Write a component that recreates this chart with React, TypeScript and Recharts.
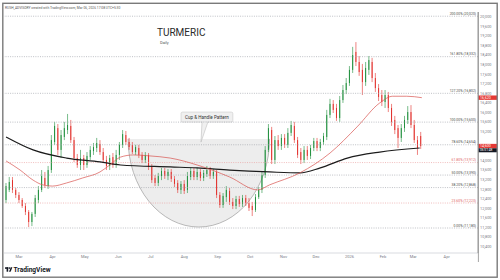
import { Bar, ComposedChart, Line, ReferenceArea, ReferenceLine, XAxis, YAxis } from "recharts";

// days counted from 1 Mar 2025 (one candle ≈ every 3rd day)
const dayIdx = [
  -12, -9, -6, -3, 0, 3, 6, 9, 12, 15, 18, 21, 24, 27, 30, 33, 36, 39, 42, 45, 48, 51, 54, 57, 60, 63, 66, 69, 72, 75,
  78, 81, 84, 87, 90, 93, 96, 99, 102, 105, 108, 111, 114, 117, 120, 123, 126, 129, 132, 135, 138, 141, 144, 147, 150,
  153, 156, 159, 162, 165, 168, 171, 174, 177, 180, 183, 186, 189, 192, 195, 198, 201, 204, 207, 210, 213, 216, 219, 222,
  225, 228, 231, 234, 237, 240, 243, 246, 249, 252, 255, 258, 261, 264, 267, 270, 273, 276, 279, 282, 285, 288, 291, 294,
  297, 300, 303, 306, 309, 312, 315, 318, 321, 324, 327, 330, 333, 336, 339, 342, 345, 348, 351, 354, 357, 360, 363, 366,
  369, 372,
];
const opens = [
  12350, 12770, 13180, 12770, 12560, 12350, 12100, 11850, 11430, 11770, 12350, 12770, 13270, 12930, 13600, 14770, 15350,
  14440, 14980, 15270, 15440, 14850, 14100, 13810, 14100, 13810, 14140, 14390, 14520, 14690, 14350, 14020, 13770, 14140,
  13810, 14230, 14650, 15060, 14770, 14650, 14350, 14520, 14230, 14020, 14230, 13730, 13270, 13060, 13350, 13560, 13350,
  13520, 13230, 13060, 12770, 13020, 12770, 13310, 13560, 13310, 13520, 13270, 13430, 13600, 13350, 13520, 12560, 12140,
  12470, 12730, 12270, 12100, 12390, 12180, 12430, 12220, 12100, 11930, 12470, 12770, 13390, 14440, 15270, 14020, 14850,
  14600, 14940, 14650, 15150, 15440, 14850, 14350, 14020, 14440, 14190, 14520, 14810, 14520, 14770, 14980, 15900, 16360,
  16190, 15770, 16520, 16940, 17230, 17780, 18530, 18110, 17780, 17270, 17780, 18110, 17440, 17020, 16730, 16440, 16730,
  16190, 15690, 15350, 14940, 15350, 15690, 16020, 15480, 14850, 15020,
];
const highs = [
  13060, 13310, 13310, 12850, 12680, 12430, 12220, 11930, 11850, 12560, 12930, 13600, 13520, 13770, 15060, 15610, 15520,
  15270, 15610, 15940, 15690, 14980, 14270, 14440, 14230, 14350, 14600, 14730, 14940, 14850, 14520, 14190, 14230, 14310,
  14440, 14770, 15270, 15230, 14940, 14770, 14650, 14650, 14350, 14350, 14310, 13850, 13390, 13480, 13690, 13690, 13640,
  13640, 13350, 13180, 13140, 13180, 13520, 13690, 13690, 13690, 13640, 13600, 13770, 13730, 13640, 13600, 12680, 12640,
  12930, 12850, 12430, 12520, 12520, 12560, 12560, 12430, 12270, 12600, 12890, 13520, 14600, 15520, 15400, 15020, 15060,
  15100, 15100, 15350, 15650, 15610, 14980, 14520, 14600, 14600, 14650, 14940, 14940, 14900, 15150, 16110, 16570, 16520,
  16360, 16690, 17150, 17440, 17940, 18740, 18940, 18360, 18030, 18110, 18360, 18280, 17650, 17190, 16940, 16940, 16860,
  16360, 15860, 15480, 15520, 15860, 16270, 16310, 15690, 15020, 15190,
];
const lows = [
  12220, 12680, 12640, 12430, 12220, 12020, 11720, 11220, 11260, 11640, 12220, 12680, 12850, 12810, 13480, 14650, 14230,
  14100, 14850, 15100, 14730, 13940, 13690, 13600, 13600, 13690, 14020, 14230, 14350, 14230, 13890, 13600, 13600, 13690,
  13690, 14020, 14520, 14650, 14440, 14270, 14230, 14100, 13890, 13890, 13600, 13060, 12930, 12930, 13180, 13230, 13180,
  13100, 12890, 12640, 12600, 12600, 12640, 13180, 13180, 13180, 13140, 13140, 13310, 13230, 13230, 12430, 12020, 12020,
  12270, 12140, 11970, 11970, 12060, 12060, 12100, 11890, 11680, 11850, 12390, 12640, 13270, 14350, 13850, 13850, 14440,
  14440, 14520, 14520, 15020, 14730, 14100, 13850, 13890, 14020, 14060, 14390, 14390, 14390, 14650, 14850, 15770, 15980,
  15650, 15610, 16400, 16770, 17110, 17650, 17940, 17530, 16730, 17110, 17570, 17270, 16860, 16480, 16270, 16190, 16020,
  15440, 15100, 14520, 14770, 15190, 15520, 15350, 14730, 14230, 14480,
];
const closes = [
  12930, 13100, 12770, 12560, 12350, 12100, 11850, 11430, 11770, 12430, 12770, 13350, 12980, 13600, 14850, 15440, 14440,
  15060, 15350, 15480, 14850, 14100, 13810, 14100, 13810, 14190, 14440, 14560, 14730, 14350, 14020, 13770, 14100, 13810,
  14230, 14650, 15100, 14770, 14560, 14350, 14560, 14230, 14020, 14230, 13730, 13180, 13060, 13350, 13560, 13350, 13520,
  13230, 13020, 12770, 13020, 12730, 13350, 13560, 13310, 13520, 13270, 13480, 13600, 13350, 13520, 12560, 12140, 12520,
  12770, 12270, 12100, 12390, 12180, 12430, 12220, 12020, 11930, 12470, 12770, 13390, 14440, 15350, 14020, 14850, 14600,
  14940, 14650, 15150, 15480, 14850, 14230, 14020, 14440, 14190, 14520, 14810, 14520, 14770, 15020, 15900, 16360, 16110,
  15770, 16520, 16940, 17230, 17780, 18400, 18110, 17690, 17270, 17860, 18190, 17440, 17020, 16650, 16440, 16730, 16190,
  15610, 15270, 14940, 15350, 15690, 16020, 15480, 14850, 14520, 14600,
];

const ma50Days = [-12, 1, 13, 22, 31, 44, 59, 75, 84, 94, 106, 121, 140, 165, 195, 221, 232, 260, 288, 313, 334, 346, 359, 373];
const ma50Vals = [
  13980, 13600, 13180, 12980, 12930, 13060, 13270, 13520, 13810, 14140, 14230, 14190, 14100, 13810, 13310, 12770, 12980,
  13480, 14310, 15400, 16400, 16680, 16680, 16620,
];
const ma200Days = [-12, 13, 44, 75, 94, 140, 165, 195, 232, 260, 279, 304, 334, 371];
const ma200Vals = [14980, 14440, 14100, 13940, 13810, 13730, 13690, 13600, 13520, 13480, 13690, 14100, 14350, 14520];

const monthTicks = [0, 31, 61, 92, 122, 153, 184, 214, 245, 275, 306, 337, 365, 396];
const monthLabels = ["Mar", "Apr", "May", "Jun", "Jul", "Aug", "Sep", "Oct", "Nov", "Dec", "2026", "Feb", "Mar", "Apr"];
// 14,800 and 14,400 sit under the last-price tag, so the scale hides them
const priceTicks = [
  10400, 10800, 11200, 11600, 12000, 12400, 12800, 13200, 13600, 14000, 15200, 15600, 16000, 16400, 16800,
  17200, 17600, 18000, 18400, 18800, 19200, 19600, 20000,
];

const fibPcts = ["0.00%", "23.60%", "38.20%", "50.00%", "61.80%", "78.60%", "100.00%", "127.20%", "161.80%", "200.00%"];
const fibPrices = [11180, 12223, 12868, 13390, 13912, 14654, 15600, 16802, 18332, 20020];
const fibRed = ["23.60%", "61.80%"];

// drawn annotations (data coordinates)
const cupDays = [101, 232];
const cupPrices = [11220, 14900];
const calloutDays = [150, 198];
const calloutPrices = [15600, 16020];

const lastPrice = 14600;
const lastMa50 = 16620;

const UP = "#1f8f3c";
const DOWN = "#e2302c";
const FONT = "Roboto, 'Liberation Sans', sans-serif";

const candles = dayIdx.map((d, i) => ({ d, o: opens[i], h: highs[i], l: lows[i], c: closes[i] }));
const ma50 = ma50Days.map((d, i) => ({ d, v: ma50Vals[i] }));
const ma200 = ma200Days.map((d, i) => ({ d, v: ma200Vals[i] }));

function Candle(props: any) {
  const { x, y, width, height, payload } = props;
  if (!payload) return null;
  const { o, h, l, c } = payload;
  const color = c >= o ? UP : DOWN;
  const k = height / (h - l || 1);
  const yo = y + (h - o) * k;
  const yc = y + (h - c) * k;
  const cx = x + width / 2;
  return (
    <g>
      <line x1={cx} x2={cx} y1={y} y2={y + height} stroke={color} strokeWidth={0.6} />
      <rect x={x} y={Math.min(yo, yc)} width={width} height={Math.max(Math.abs(yc - yo), 0.8)} fill={color} />
    </g>
  );
}

function CupShape(props: any) {
  const { x, y, width, height } = props;
  const arc = `M${x},${y} A${width / 2},${height} 0 0 0 ${x + width},${y}`;
  return (
    <g>
      <path d={arc + " Z"} fill="#d6d6d6" fillOpacity={0.45} />
      <path d={arc} fill="none" stroke="#9c9c9c" strokeWidth={0.7} />
    </g>
  );
}

function Callout(props: any) {
  const { x, y, width, height } = props;
  const b = y + height;
  return (
    <g>
      <rect x={x} y={y} width={width} height={height} rx={1.5} fill="#f0f0f0" stroke="#c2c2c2" strokeWidth={0.5} />
      <path d={`M${x + 21},${b - 0.4} L${x + 20},${b + 20} L${x + 27},${b - 0.4}`} fill="#f0f0f0" stroke="#b5b5b5" strokeWidth={0.5} />
      <text x={x + width / 2} y={y + height / 2 + 1.6} textAnchor="middle" fontSize={4.6} fill="#333" fontFamily={FONT}>
        Cup &amp; Handle Pattern
      </text>
    </g>
  );
}

function FibLabel(props: any) {
  const { viewBox, txt, col } = props;
  if (!viewBox) return null;
  return (
    <text x={viewBox.x + viewBox.width - 2} y={viewBox.y - 1.3} textAnchor="end" fontSize={3.4} fill={col} fontFamily={FONT}>
      {txt}
    </text>
  );
}

function PriceTag(props: any) {
  const { viewBox, txt, bg, sub } = props;
  if (!viewBox) return null;
  const x = viewBox.x + viewBox.width;
  const y = viewBox.y;
  return (
    <g fontFamily={FONT}>
      <rect x={x} y={y - 2.2} width={19} height={4.4} fill={bg} />
      <text x={x + 2} y={y + 1.3} fontSize={3.6} fill="#fff">{txt}</text>
      {sub ? (
        <g>
          <rect x={x} y={y + 2.2} width={19} height={4} fill="#131722" />
          <text x={x + 2} y={y + 5.3} fontSize={3.2} fill="#fff">{sub}</text>
        </g>
      ) : null}
    </g>
  );
}

export default function App() {
  return (
    <div style={{ position: "relative", width: 500, height: 280, background: "#fff", overflow: "hidden", fontFamily: FONT }}>
      <style>{`body{margin:0}`}</style>
      <ComposedChart width={500} height={262} data={candles} margin={{ top: 12, right: 3, bottom: 0, left: 4 }}>
        <XAxis
          dataKey="d"
          type="number"
          domain={[-13.9, 425]}
          allowDataOverflow
          ticks={monthTicks}
          interval={0}
          tickFormatter={(v: number) => monthLabels[monthTicks.indexOf(v)]}
          tick={{ fontSize: 4, fill: "#787b86", fontFamily: FONT }}
          tickLine={false}
          tickSize={0}
          tickMargin={2.5}
          axisLine={{ stroke: "#cfd2d8", strokeWidth: 0.8 }}
          height={9}
        />
        <YAxis
          orientation="right"
          type="number"
          domain={[10137, 20196]}
          allowDataOverflow
          ticks={priceTicks}
          interval={0}
          tickFormatter={(v: number) => v.toLocaleString("en-US")}
          tick={{ fontSize: 3.8, fill: "#787b86", fontFamily: FONT }}
          tickLine={false}
          tickSize={0}
          tickMargin={2}
          axisLine={{ stroke: "#8d8d8d", strokeWidth: 0.8 }}
          width={19}
        />
        <ReferenceArea x1={cupDays[0]} x2={cupDays[1]} y1={cupPrices[0]} y2={cupPrices[1]} shape={<CupShape />} />
        {fibPrices.map((p, i) => {
          const red = fibRed.includes(fibPcts[i]);
          return (
            <ReferenceLine
              key={fibPcts[i]}
              y={p}
              stroke={red ? "#eaa0a0" : "#a3a6ad"}
              strokeWidth={0.7}
              strokeDasharray="1 1.3"
              label={<FibLabel txt={`${fibPcts[i]} (${p.toLocaleString("en-US")})`} col={red ? "#e06666" : "#4a4a4a"} />}
            />
          );
        })}
        <Bar dataKey={(e: any) => [e.l, e.h]} shape={<Candle />} barSize={2} isAnimationActive={false} />
        <Line data={ma200} dataKey="v" type="monotone" stroke="#1c1c1c" strokeWidth={1.2} dot={false} isAnimationActive={false} />
        <Line data={ma50} dataKey="v" type="monotone" stroke="#d9534f" strokeWidth={0.7} dot={false} isAnimationActive={false} />
        <ReferenceArea
          x1={calloutDays[0]}
          x2={calloutDays[1]}
          y1={calloutPrices[0]}
          y2={calloutPrices[1]}
          shape={<Callout />}
        />
        <ReferenceLine y={lastMa50} stroke="none" label={<PriceTag txt={lastMa50.toLocaleString("en-US")} bg="#e53935" />} />
        <ReferenceLine
          y={lastPrice}
          stroke="none"
          label={<PriceTag txt={lastPrice.toLocaleString("en-US")} bg="#e53935" sub="06:51:48" />}
        />
      </ComposedChart>
      <svg width={500} height={280} style={{ position: "absolute", left: 0, top: 0, pointerEvents: "none" }}>
        <rect x={2.8} y={3.3} width={494.4} height={273.9} fill="none" stroke="#7a7a7a" strokeWidth={1.4} />
        <line x1={478.4} x2={478.4} y1={12} y2={262} stroke="#8d8d8d" strokeWidth={0.8} />
        <text x={5} y={9.3} fontSize={3.3} fill="#555" fontFamily={FONT}>
          RUSH_ADVISORY created with TradingView.com, Mar 06, 2026 17:08 UTC+5:30
        </text>
        <text x={157} y={36} fontSize={10} fill="#2a2a2a" fontFamily={FONT}>TURMERIC</text>
        <text x={160} y={43.5} fontSize={4} fill="#555" fontFamily={FONT}>Daily</text>
        <g fill="#131722">
          <rect x={5} y={267.3} width={3.4} height={1.5} />
          <rect x={6.6} y={267.3} width={1.6} height={4.4} />
          <circle cx={9.6} cy={268.1} r={0.8} />
          <path d="M10.8,267.3 L12.4,267.3 L10.6,271.7 L9,271.7 Z" />
        </g>
        <text x={13.5} y={271.8} fontSize={6.6} fontWeight={700} fill="#131722" fontFamily={FONT}>TradingView</text>
      </svg>
    </div>
  );
}
